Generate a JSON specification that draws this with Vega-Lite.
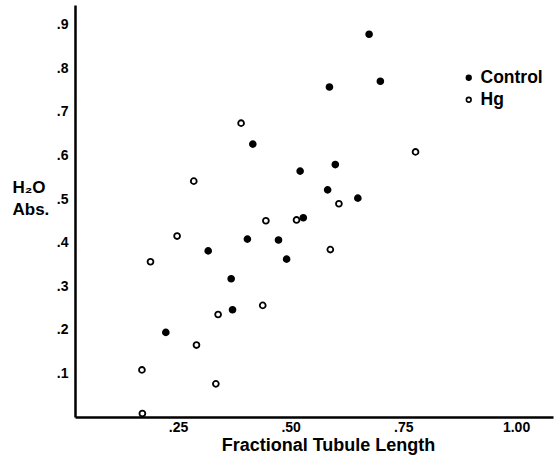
{
  "$schema": "https://vega.github.io/schema/vega-lite/v6.json",
  "autosize": "none",
  "width": 478,
  "height": 412,
  "padding": {"left": 75, "top": 5, "right": 1, "bottom": 46},
  "background": "white",
  "config": {"view": {"stroke": null}, "font": "Liberation Sans"},
  "data": {"values": [
    {"group": "Control", "length": 0.674, "abs": 0.878},
    {"group": "Control", "length": 0.699, "abs": 0.770},
    {"group": "Control", "length": 0.586, "abs": 0.757},
    {"group": "Control", "length": 0.416, "abs": 0.626},
    {"group": "Control", "length": 0.599, "abs": 0.579},
    {"group": "Control", "length": 0.521, "abs": 0.564},
    {"group": "Control", "length": 0.582, "abs": 0.521},
    {"group": "Control", "length": 0.649, "abs": 0.502},
    {"group": "Control", "length": 0.528, "abs": 0.457},
    {"group": "Control", "length": 0.404, "abs": 0.408},
    {"group": "Control", "length": 0.473, "abs": 0.406},
    {"group": "Control", "length": 0.317, "abs": 0.381},
    {"group": "Control", "length": 0.491, "abs": 0.362},
    {"group": "Control", "length": 0.368, "abs": 0.317},
    {"group": "Control", "length": 0.371, "abs": 0.246},
    {"group": "Control", "length": 0.223, "abs": 0.194},
    {"group": "Hg", "length": 0.390, "abs": 0.674},
    {"group": "Hg", "length": 0.777, "abs": 0.608},
    {"group": "Hg", "length": 0.285, "abs": 0.541},
    {"group": "Hg", "length": 0.607, "abs": 0.489},
    {"group": "Hg", "length": 0.445, "abs": 0.450},
    {"group": "Hg", "length": 0.513, "abs": 0.452},
    {"group": "Hg", "length": 0.248, "abs": 0.415},
    {"group": "Hg", "length": 0.588, "abs": 0.384},
    {"group": "Hg", "length": 0.189, "abs": 0.356},
    {"group": "Hg", "length": 0.339, "abs": 0.235},
    {"group": "Hg", "length": 0.438, "abs": 0.256},
    {"group": "Hg", "length": 0.291, "abs": 0.165},
    {"group": "Hg", "length": 0.334, "abs": 0.076},
    {"group": "Hg", "length": 0.170, "abs": 0.108},
    {"group": "Hg", "length": 0.171, "abs": 0.008}
  ]},
  "mark": {"type": "point", "filled": false, "stroke": "black", "strokeWidth": 1.8, "size": 34, "opacity": 1},
  "encoding": {
    "x": {
      "field": "length", "type": "quantitative",
      "scale": {"domain": [0.0215, 1.082], "nice": false, "zero": false},
      "axis": {
        "values": [0.25, 0.5, 0.75, 1.0],
        "labelExpr": "datum.value < 1 ? replace(format(datum.value, '.2f'), '0.', '.') : '1.00'",
        "grid": false, "ticks": false,
        "domainColor": "black", "domainWidth": 2.5,
        "labelFont": "Liberation Sans", "labelFontWeight": "bold", "labelFontSize": 14, "labelColor": "black",
        "labelPadding": 3,
        "title": "Fractional  Tubule Length",
        "titleFont": "Liberation Sans", "titleFontWeight": "bold", "titleFontSize": 18, "titleColor": "black",
        "titleX": 253, "titleY": 33, "titleBaseline": "alphabetic", "titleAnchor": null, "titleAlign": "center"
      }
    },
    "y": {
      "field": "abs", "type": "quantitative",
      "scale": {"domain": [0, 0.945], "nice": false},
      "axis": {
        "values": [0.1, 0.2, 0.3, 0.4, 0.5, 0.6, 0.7, 0.8, 0.9],
        "labelExpr": "replace(format(datum.value, '.1f'), '0.', '.')",
        "grid": false, "ticks": false,
        "domainColor": "black", "domainWidth": 2.5,
        "labelFont": "Liberation Sans", "labelFontWeight": "bold", "labelFontSize": 14, "labelColor": "black",
        "labelPadding": 7,
        "title": ["H₂O", "Abs."],
        "titleAngle": 0, "titleAlign": "left", "titleBaseline": "alphabetic",
        "titleX": -63, "titleY": 187, "titleLineHeight": 22,
        "titleFont": "Liberation Sans", "titleFontWeight": "bold", "titleFontSize": 17, "titleColor": "black"
      }
    },
    "fill": {
      "field": "group", "type": "nominal",
      "scale": {"domain": ["Control", "Hg"], "range": ["black", "white"]},
      "legend": {
        "orient": "none", "legendX": 385, "legendY": 64,
        "title": null,
        "symbolType": "circle", "symbolSize": 22, "symbolStrokeColor": "black", "symbolStrokeWidth": 1.6,
        "labelFont": "Liberation Sans", "labelFontWeight": "bold", "labelFontSize": 17.5, "labelColor": "black",
        "labelOffset": 3, "rowPadding": 3
      }
    }
  }
}
